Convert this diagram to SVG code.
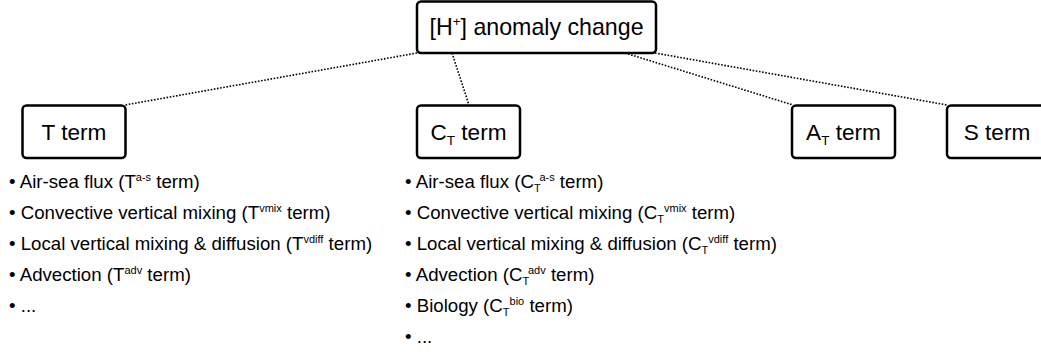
<svg xmlns="http://www.w3.org/2000/svg" width="1041" height="352" viewBox="0 0 1041 352">
<style>
.box{fill:#fff;stroke:#000;stroke-width:2.5}
.lbl{font-family:"Liberation Sans",Arial,sans-serif;font-size:22.6px;fill:#000;text-anchor:middle}
.ttl{font-family:"Liberation Sans",Arial,sans-serif;font-size:23.2px;fill:#000;text-anchor:middle}
.li{font-family:"Liberation Sans",Arial,sans-serif;font-size:18.67px;fill:#000}
.conn line{stroke:#000;stroke-width:1.6;stroke-dasharray:1.6 1.6;fill:none}
</style>
<rect width="1041" height="352" fill="#fff"/>
<g id="connectors" class="conn">
<line x1="417" y1="53" x2="125" y2="105"/>
<line x1="452" y1="53" x2="469" y2="105"/>
<line x1="625" y1="53" x2="793" y2="105"/>
<line x1="655" y1="53" x2="947" y2="105"/>
</g>
<g id="node-h">
<rect class="box" x="417" y="1.5" width="239" height="51.5" rx="4"/>
<text class="ttl" x="536.5" y="35">[H<tspan font-size="13.5px" dy="-9">+</tspan><tspan dy="9">] anomaly change</tspan></text>
</g>
<g id="node-t">
<rect class="box" x="22.5" y="105.5" width="103" height="52.5" rx="4"/>
<text class="lbl" x="74" y="139.5">T term</text>
</g>
<g id="node-ct">
<rect class="box" x="417" y="105.5" width="103" height="52.5" rx="4"/>
<text class="lbl" x="468.5" y="139.5">C<tspan font-size="13.5px" dy="5">T</tspan><tspan dy="-5"> term</tspan></text>
</g>
<g id="node-at">
<rect class="box" x="792" y="105.5" width="103" height="52.5" rx="4"/>
<text class="lbl" x="843.5" y="139.5">A<tspan font-size="13.5px" dy="5">T</tspan><tspan dy="-5"> term</tspan></text>
</g>
<g id="node-s">
<rect class="box" x="947" y="105.5" width="101" height="52.5" rx="4"/>
<text class="lbl" x="997" y="139.5">S term</text>
</g>
<g id="list-t" class="li">
<text class="li" x="9" y="188">• Air-sea flux (T<tspan font-size="11px" dy="-7">a-s</tspan><tspan dy="7"> term)</tspan></text>
<text class="li" x="9" y="219">• Convective vertical mixing (T<tspan font-size="11px" dy="-7">vmix</tspan><tspan dy="7"> term)</tspan></text>
<text class="li" x="9" y="250">• Local vertical mixing &amp; diffusion (T<tspan font-size="11px" dy="-7">vdiff</tspan><tspan dy="7"> term)</tspan></text>
<text class="li" x="9" y="281">• Advection (T<tspan font-size="11px" dy="-7">adv</tspan><tspan dy="7"> term)</tspan></text>
<text class="li" x="9" y="312">• ...</text>
</g>
<g id="list-ct" class="li">
<text class="li" x="405" y="188">• Air-sea flux (C<tspan font-size="11px" dy="4">T</tspan><tspan font-size="11px" dy="-11">a-s</tspan><tspan dy="7"> term)</tspan></text>
<text class="li" x="405" y="219">• Convective vertical mixing (C<tspan font-size="11px" dy="4">T</tspan><tspan font-size="11px" dy="-11">vmix</tspan><tspan dy="7"> term)</tspan></text>
<text class="li" x="405" y="250">• Local vertical mixing &amp; diffusion (C<tspan font-size="11px" dy="4">T</tspan><tspan font-size="11px" dy="-11">vdiff</tspan><tspan dy="7"> term)</tspan></text>
<text class="li" x="405" y="281">• Advection (C<tspan font-size="11px" dy="4">T</tspan><tspan font-size="11px" dy="-11">adv</tspan><tspan dy="7"> term)</tspan></text>
<text class="li" x="405" y="312">• Biology (C<tspan font-size="11px" dy="4">T</tspan><tspan font-size="11px" dy="-11">bio</tspan><tspan dy="7"> term)</tspan></text>
<text class="li" x="405" y="343">• ...</text>
</g>
</svg>
